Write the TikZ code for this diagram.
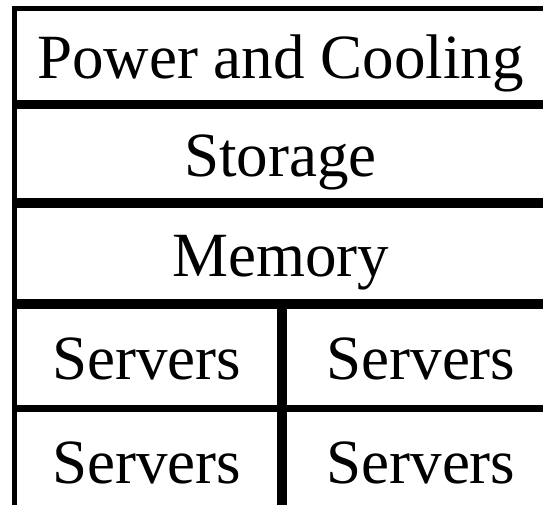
\documentclass[tikz,border=0pt]{standalone}
\usepackage{fontspec}
\setmainfont{Liberation Serif}
\usepackage{tikz}
\usetikzlibrary{positioning}
\tikzset{cell/.style={draw, line width=0.1cm, inner sep=0pt, outer sep=0pt, anchor=north west,
	font=\fontsize{35.85pt}{41pt}\selectfont, text height=33.5pt, text depth=7.7pt}}

\begin{document}
\begin{tikzpicture}
	\clip (0,0) rectangle (10.86,-10.08);
	\node[cell, minimum width=10.66cm, minimum height=1.89cm] (power) at (0.28,-0.17){Power and Cooling};%top
	\node[cell, minimum width=10.66cm, minimum height=1.88cm] (storage) at (0.28,-2.13){Storage};
	\node[cell, minimum width=10.66cm, minimum height=1.92cm] (memory) at (0.28,-4.11){Memory};
	\node[cell, minimum width=5.31cm, minimum height=2.01cm] (srvA) at (0.28,-6.13){Servers};%left
	\node[cell, minimum width=5.46cm, minimum height=2.01cm] (srvB) at (5.69,-6.13){Servers};%right
	\node[cell, minimum width=5.31cm, minimum height=2.06cm] (srvC) at (0.28,-8.18){Servers};
	\node[cell, minimum width=5.46cm, minimum height=2.06cm] (srvD) at (5.69,-8.18){Servers};
\end{tikzpicture}
\end{document}
